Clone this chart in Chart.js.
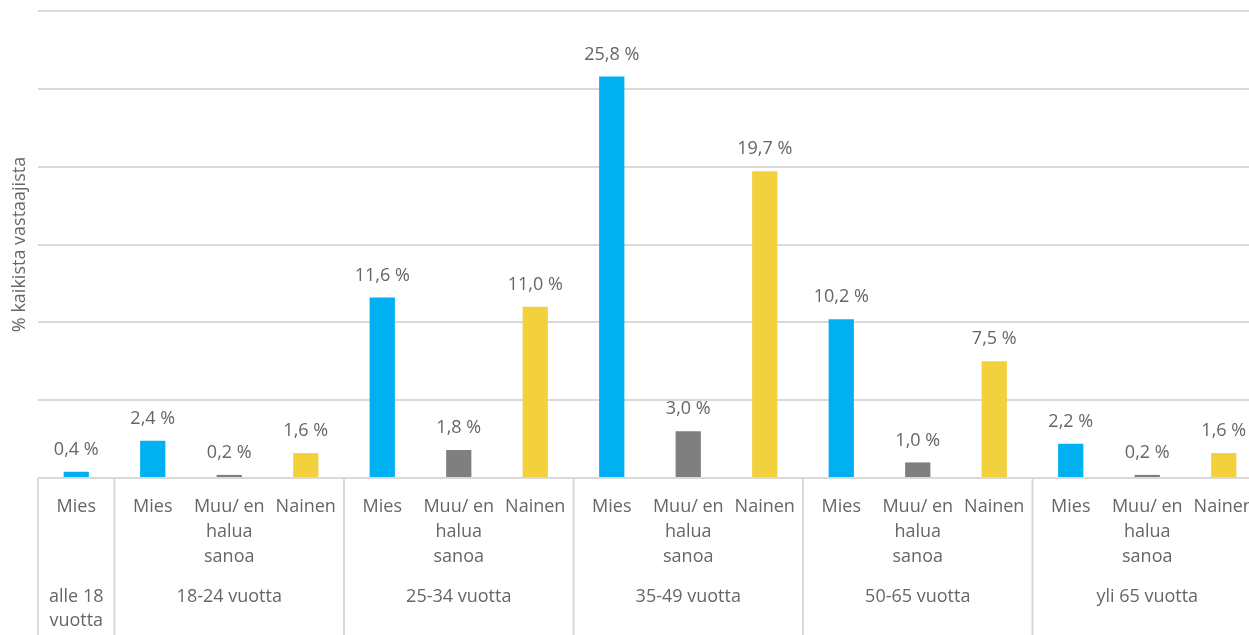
<!DOCTYPE html>
<html>
<head>
<meta charset="utf-8">
<script src="https://cdn.jsdelivr.net/npm/chart.js@4.4.1/dist/chart.umd.min.js"></script>
<style>
  html, body { margin: 0; padding: 0; background: #fff; overflow: hidden; }
  #wrap { width: 1249px; height: 635px; overflow: hidden; }
</style>
</head>
<body>
<div id="wrap"><canvas id="chart" width="1262" height="635"></canvas></div>
<script>
// categories (sub labels) and values
const subLabels = [
  'Mies',
  'Mies', 'Muu/ en halua sanoa', 'Nainen',
  'Mies', 'Muu/ en halua sanoa', 'Nainen',
  'Mies', 'Muu/ en halua sanoa', 'Nainen',
  'Mies', 'Muu/ en halua sanoa', 'Nainen',
  'Mies', 'Muu/ en halua sanoa', 'Nainen'
];
const values = [0.4, 2.4, 0.2, 1.6, 11.6, 1.8, 11.0, 25.8, 3.0, 19.7, 10.2, 1.0, 7.5, 2.2, 0.2, 1.6];
const groupLabels = [['alle 18', 'vuotta'], ['18-24 vuotta'], ['25-34 vuotta'], ['35-49 vuotta'], ['50-65 vuotta'], ['yli 65 vuotta']];
const groupSizes = [1, 3, 3, 3, 3, 3];

const genderColors = { 'Mies': '#00b0f0', 'Muu/ en halua sanoa': '#7f7f7f', 'Nainen': '#f2d13c' };
const textColor = '#666666';
const lineColor = '#d9d9d9';
const fontFamily = '"Open Sans", Lato, sans-serif';

// wrap the long label the same way as the original
const tickLabels = subLabels.map(l => l === 'Muu/ en halua sanoa' ? ['Muu/ en', 'halua', 'sanoa'] : [l]);

const extras = {
  id: 'extras',
  afterDraw(chart) {
    const ctx = chart.ctx;
    const x = chart.scales.x;
    const area = chart.chartArea;
    const half = (x.getPixelForValue(1) - x.getPixelForValue(0)) / 2;

    // value labels above bars
    const meta = chart.getDatasetMeta(0);
    ctx.save();
    ctx.font = '18px ' + fontFamily;
    ctx.fillStyle = textColor;
    ctx.textAlign = 'center';
    ctx.textBaseline = 'middle';
    meta.data.forEach((bar, i) => {
      ctx.fillText(values[i].toFixed(1).replace('.', ',') + ' %', bar.x, bar.y - 22);
    });

    // group separators and group labels
    ctx.strokeStyle = lineColor;
    ctx.lineWidth = 2;
    let start = 0;
    const bottom = chart.height;
    ctx.beginPath();
    ctx.moveTo(x.getPixelForValue(0) - half, area.bottom);
    ctx.lineTo(x.getPixelForValue(0) - half, bottom);
    groupSizes.forEach((size, g) => {
      const end = start + size - 1;
      const left = x.getPixelForValue(start) - half;
      const right = x.getPixelForValue(end) + half;
      ctx.moveTo(right, area.bottom);
      ctx.lineTo(right, bottom);
      const cx = (left + right) / 2;
      groupLabels[g].forEach((line, k) => {
        ctx.fillText(line, cx, 597 + k * 24);
      });
      start = end + 1;
    });
    ctx.stroke();
    ctx.restore();
  }
};

new Chart(document.getElementById('chart'), {
  type: 'bar',
  data: {
    labels: tickLabels,
    datasets: [{
      data: values,
      backgroundColor: subLabels.map(l => genderColors[l]),
      categoryPercentage: 1,
      barPercentage: 0.33
    }]
  },
  options: {
    responsive: false,
    animation: false,
    layout: { padding: { top: 11, left: 0, right: 0, bottom: 0 } },
    plugins: { legend: { display: false }, tooltip: { enabled: false } },
    scales: {
      x: {
        grid: { display: false },
        border: { display: false },
        ticks: {
          color: textColor,
          font: { family: fontFamily, size: 18, lineHeight: 1.39 },
          maxRotation: 0,
          autoSkip: false,
          padding: 8
        },
        afterFit(scale) {
          scale.height = 157;
          scale.paddingLeft = 0;
          scale.paddingRight = 0;
        }
      },
      y: {
        min: 0,
        max: 30,
        ticks: { display: false, stepSize: 5 },
        grid: { color: lineColor, lineWidth: 2, drawTicks: false },
        border: { display: false },
        title: {
          display: true,
          text: '% kaikista vastaajista',
          color: textColor,
          font: { family: fontFamily, size: 18 },
          padding: { top: 9, bottom: 6 }
        },
        afterFit(scale) { scale.width = 38; }
      }
    }
  },
  plugins: [extras]
});
</script>
</body>
</html>
